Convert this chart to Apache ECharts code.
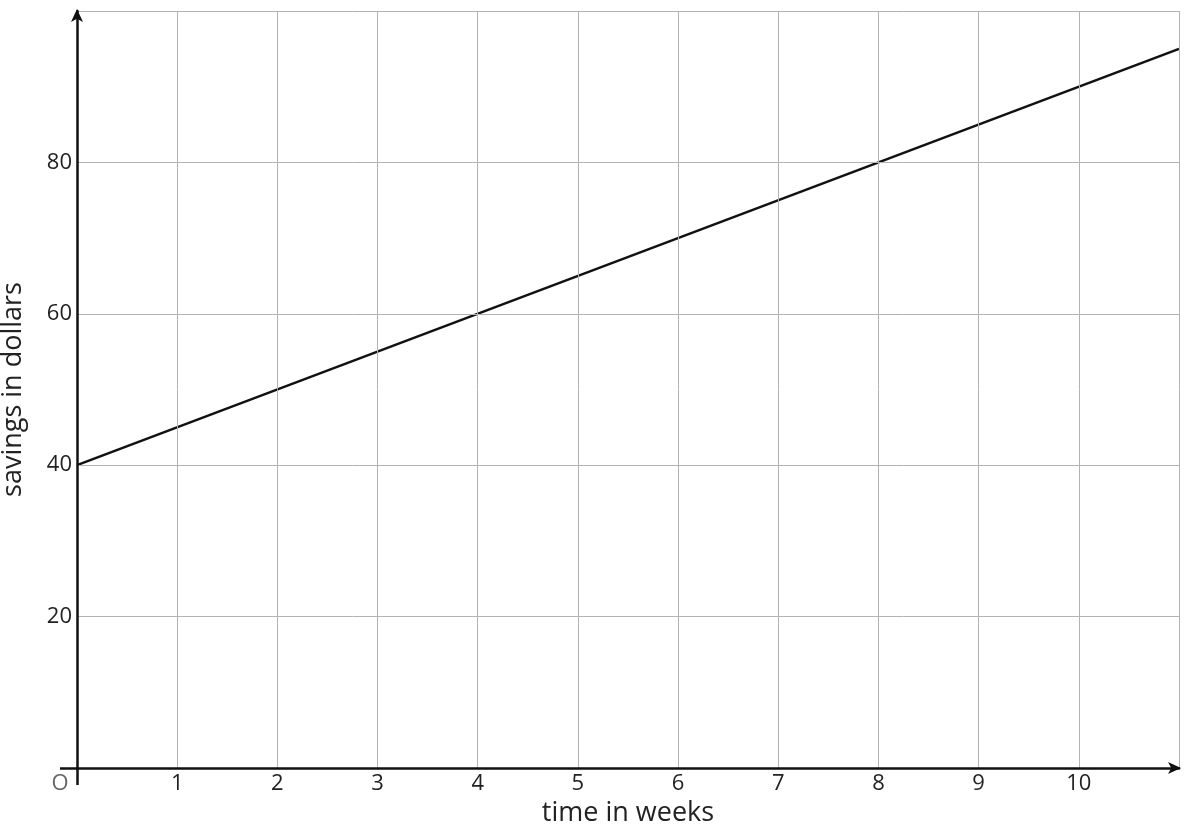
<!DOCTYPE html>
<html>
<head>
<meta charset="utf-8">
<script src="https://cdn.jsdelivr.net/npm/echarts@6/dist/echarts.min.js"></script>
<style>html,body{margin:0;padding:0;background:#fff;}#c{width:1198px;height:834px;}</style>
</head>
<body>
<div id="c"></div>
<script>
const weeks = [0, 11];
const savings = [40, 95];
const xTickLabels = [0, 1, 2, 3, 4, 5, 6, 7, 8, 9, 10];
const yTickLabels = [20, 40, 60, 80];
const xName = 'time in weeks';
const yName = 'savings in dollars';

const chart = echarts.init(document.getElementById('c'));
const font = '"Open Sans", "Noto Sans", sans-serif';
const axisColor = '#111';
chart.setOption({
  animation: false,
  grid: { left: 77, right: 19, top: 11, bottom: 66, containLabel: false, outerBoundsMode: 'none' },
  xAxis: [{
    type: 'value', min: 0, max: 11, interval: 1,
    name: xName, nameLocation: 'middle', nameGap: 31,
    nameTextStyle: { fontFamily: font, fontSize: 27, color: '#222' },
    axisLine: { show: true, onZero: false, symbol: ['none', 'arrow'], symbolSize: [9, 13], symbolOffset: [0, 2],
      lineStyle: { color: axisColor, width: 2.5 } },
    axisTick: { show: false },
    axisLabel: { customValues: xTickLabels, fontFamily: font, fontSize: 22, color: '#222', margin: 5,
      formatter: v => v === 0 ? '{o|O}' : String(v),
      rich: { o: { fontFamily: font, fontSize: 22, color: '#666', padding: [0, 34, 0, 0] } } },
    splitLine: { show: true, lineStyle: { color: '#b3b3b3', width: 1 } },
    z: 5
  }, {
    type: 'value', min: 0, max: 11, position: 'bottom',
    axisLine: { show: false },
    axisTick: { show: true, customValues: [0], length: 17, lineStyle: { color: axisColor, width: 2.5 } },
    axisLabel: { show: false },
    splitLine: { show: false }
  }],
  yAxis: [{
    type: 'value', min: 0, max: 100, interval: 20,
    name: yName, nameLocation: 'middle', nameGap: 50,
    nameTextStyle: { fontFamily: font, fontSize: 27, color: '#222' },
    axisLine: { show: true, onZero: false, symbol: ['none', 'arrow'], symbolSize: [9, 13], symbolOffset: [0, 2],
      lineStyle: { color: axisColor, width: 2.5 } },
    axisTick: { show: false },
    axisLabel: { customValues: yTickLabels, fontFamily: font, fontSize: 22, color: '#222', margin: 5 },
    splitLine: { show: true, lineStyle: { color: '#b3b3b3', width: 1 } },
    z: 5
  }, {
    type: 'value', min: 0, max: 100, position: 'left',
    axisLine: { show: false },
    axisTick: { show: true, customValues: [0], length: 17, lineStyle: { color: axisColor, width: 2.5 } },
    axisLabel: { show: false },
    splitLine: { show: false }
  }],
  series: [{
    type: 'line',
    data: weeks.map((w, i) => [w, savings[i]]),
    showSymbol: false,
    lineStyle: { color: axisColor, width: 2.5 },
    z: 3
  }]
});
</script>
</body>
</html>
